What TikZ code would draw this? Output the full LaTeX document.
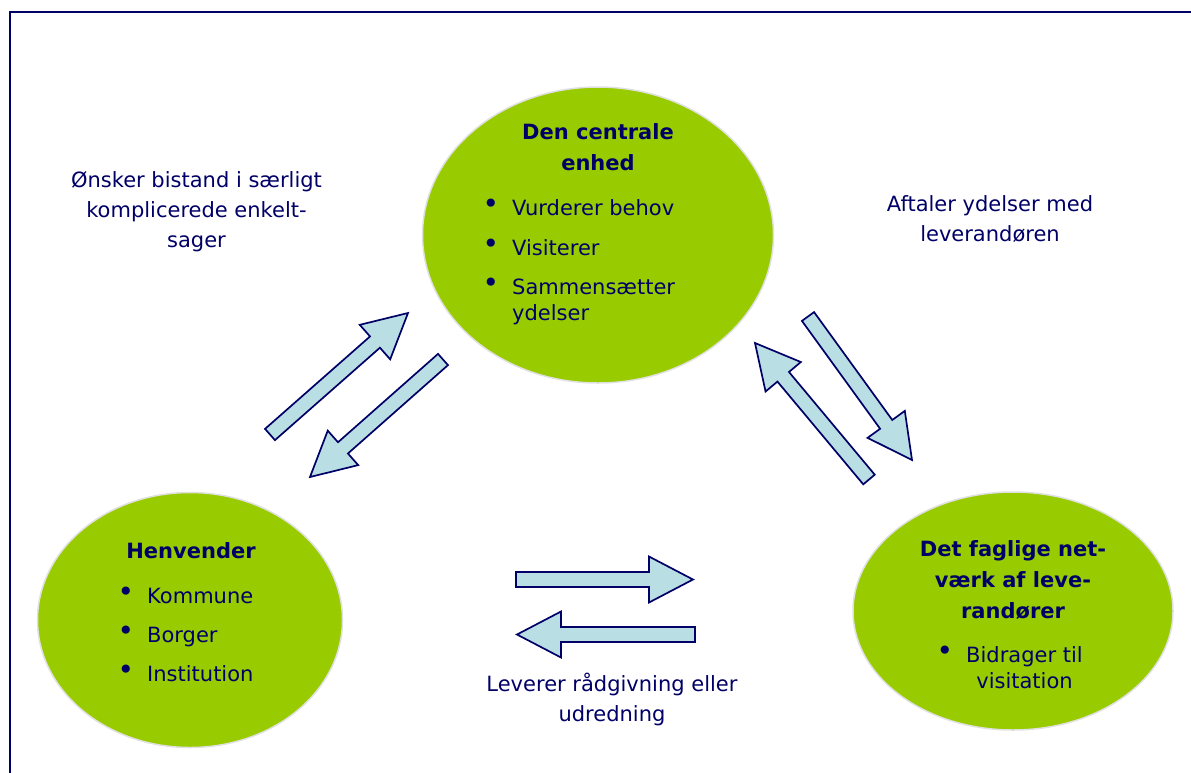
\documentclass[tikz,border=0pt]{standalone}
\usepackage{fontspec}
\setmainfont{DejaVu Sans}
\usetikzlibrary{calc, shapes.geometric}
\definecolor{navy}{RGB}{0,0,102}
\definecolor{lime}{RGB}{153,204,0}
\definecolor{aqua}{RGB}{185,223,228}

\newcommand{\shaftw}{7.5pt}
\newcommand{\headw}{23pt}
\newcommand{\headl}{44pt}
\newcommand{\blockarr}[2]{%
  \coordinate (hb) at ($(#2)!\headl!(#1)$);
  \draw[barr] ($(#1)!\shaftw!90:(#2)$) -- ($(hb)!\shaftw!-90:(#1)$)
    -- ($(hb)!\headw!-90:(#1)$) -- (#2) -- ($(hb)!\headw!90:(#1)$)
    -- ($(hb)!\shaftw!90:(#1)$) -- ($(#1)!\shaftw!-90:(#2)$) -- cycle;}
\newcommand{\bul}{\llap{\raisebox{2pt}{\fontsize{28}{28}\selectfont•}\hspace{13pt}}}

\begin{document}
\begin{tikzpicture}[x=1pt, y=-1pt,
  hub/.style  = {ellipse, fill=lime, draw=black!12, line width=1.5pt, inner sep=0pt},
  head/.style = {font=\bfseries\fontsize{21}{31}\selectfont, text=navy, align=center,
                 inner sep=0pt, anchor=base},
  item/.style = {font=\fontsize{21}{26}\selectfont, text=navy, align=left,
                 inner sep=0pt, anchor=base west},
  note/.style = {font=\fontsize{21}{30}\selectfont, text=navy, align=center,
                 inner sep=0pt, anchor=base},
  barr/.style = {fill=aqua, draw=navy, line width=1.7pt, line join=miter}
]
\clip (0,0) rectangle (1191,772);
\draw[navy, line width=2.5pt] (10,12) rectangle (1210,800);

\node[hub, minimum width=351pt, minimum height=296pt] (ce) at (598,235) {};
\node[hub, minimum width=305pt, minimum height=255pt] (hv) at (190,620) {};
\node[hub, minimum width=320pt, minimum height=238pt] (nv) at (1013,611) {};

% multi-line nodes sit on the baseline of their last line
\node[head] (ceh) at (598,170) {Den centrale\\enhed};
\node[item] (ce1) at (512,215) {\bul Vurderer behov};
\node[item] (ce2) at (512,255) {\bul Visiterer};
\node[item] (ce3) at (512,320) {\bul Sammensætter\\ydelser};

\node[head] (hvh) at (191,558) {Henvender};
\node[item] (hv1) at (147,603) {\bul Kommune};
\node[item] (hv2) at (147,642) {\bul Borger};
\node[item] (hv3) at (147,681) {\bul Institution};

\node[head] (nvh) at (1013,618) {Det faglige net-\\værk af leve-\\randører};
\node[item, align=center, anchor=base] (nv1) at (1024.5,688) {\bul Bidrager til\\visitation};

\node[note] (nl) at (196.5,247) {Ønsker bistand i særligt\\komplicerede enkelt-\\sager};
\node[note] (nr) at (990,241) {Aftaler ydelser med\\leverandøren};
\node[note] (nb) at (612,721) {Leverer rådgivning eller\\udredning};

\coordinate (a1s) at (270,434.5);  \coordinate (a1e) at (408,313);
\coordinate (a2s) at (443,359.5);  \coordinate (a2e) at (310,477);
\coordinate (a3s) at (808,316.5);  \coordinate (a3e) at (912,460);
\coordinate (a4s) at (869,479.5);  \coordinate (a4e) at (755,343);
\coordinate (a5s) at (516,579.5);  \coordinate (a5e) at (693,579.5);
\coordinate (a6s) at (695,634.5);  \coordinate (a6e) at (517,634.5);

\blockarr{a1s}{a1e} \blockarr{a2s}{a2e}
\blockarr{a3s}{a3e} \blockarr{a4s}{a4e}
\blockarr{a5s}{a5e} \blockarr{a6s}{a6e}
\end{tikzpicture}
\end{document}
